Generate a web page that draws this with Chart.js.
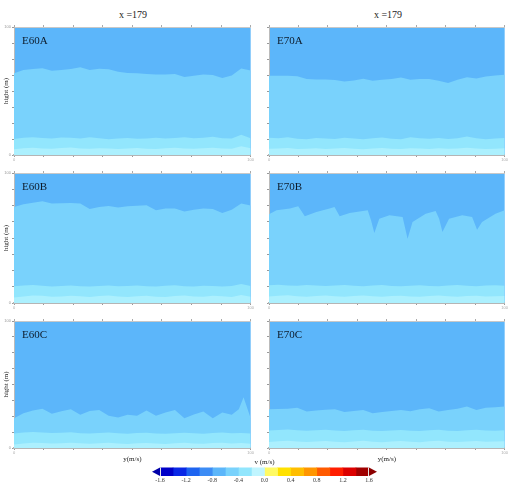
<!DOCTYPE html>
<html>
<head>
<meta charset="utf-8">
<script src="https://cdn.jsdelivr.net/npm/chart.js@4.4.1/dist/chart.umd.min.js"></script>
<style>
  body { margin: 0; background: #fff; width: 508px; height: 483px; overflow: hidden; position: relative; font-family: "Liberation Serif", serif; }
  canvas { position: absolute; }
  .col-title { position: absolute; top: 9px; width: 120px; text-align: center; font-size: 10px; color: #222; }
</style>
</head>
<body>
<div class="col-title" style="left:73px">x =179</div>
<div class="col-title" style="left:328px">x =179</div>
<script>
// x positions (y(m/s) axis, 0..100)
const xs = [0, 4, 8, 12, 16, 20, 24, 28, 32, 36, 40, 44, 48, 52, 56, 60, 64, 68, 72, 76, 80, 84, 88, 92, 96, 100];
const xsE60Ctop = [0, 4, 8, 12, 16, 20, 24, 28, 32, 36, 40, 44, 48, 52, 56, 60, 64, 68, 72, 76, 80, 84, 88, 92, 95, 97, 100];
const xsE70Btop = [0, 3.2, 8.9, 12.4, 15.2, 20.1, 25.7, 27.8, 30, 34.2, 39.8, 41.9, 43.3, 44.7, 46.8, 51.1, 56.7, 58.8, 60.9, 66.5, 70.7, 72.2, 73.6, 76.4, 82, 86.2, 88.3, 90.4, 96.1, 100];

// contour boundaries (height, 0..100)
const e60aTop = [63.8, 66.4, 67.2, 67.7, 65.9, 66.4, 67.2, 68.5, 66.4, 67.4, 66.9, 65.1, 64.1, 63.8, 63.3, 62.8, 62.8, 63.3, 61.0, 62.0, 62.8, 62.5, 60.2, 62.2, 67.5, 66.0];
const e60aMid = [12.5, 13.5, 13.9, 13.2, 12.8, 13.6, 13.4, 12.9, 13.8, 13.1, 12.4, 12.8, 13.3, 12.6, 12.9, 13.5, 12.8, 13.3, 13.9, 13.0, 13.4, 14.2, 13.1, 12.9, 15.8, 13.0];
const e60aLow = [4.5, 5.2, 5.6, 5.0, 4.8, 5.4, 5.8, 5.1, 4.9, 5.3, 5.0, 4.6, 5.1, 5.5, 4.9, 4.7, 5.2, 5.6, 5.0, 4.8, 5.3, 5.6, 5.0, 4.9, 6.8, 5.2];

const e70aTop = [61.9, 61.9, 61.9, 61.6, 59.3, 59.0, 59.0, 58.5, 57.5, 58.2, 59.5, 58.0, 58.8, 59.3, 60.6, 58.8, 59.3, 59.3, 58.0, 56.2, 58.8, 60.8, 59.8, 61.3, 62.1, 62.6];
const e70aMid = [13.4, 13.0, 13.8, 12.6, 12.4, 13.2, 12.8, 12.5, 13.5, 12.9, 12.3, 13.0, 13.6, 12.7, 12.4, 13.8, 13.1, 12.6, 13.2, 12.5, 13.0, 14.5, 13.1, 12.4, 12.8, 13.2];
const e70aLow = [4.8, 5.0, 5.5, 4.7, 4.9, 5.3, 4.6, 5.0, 5.4, 4.8, 4.5, 5.1, 5.5, 4.9, 4.6, 5.2, 5.0, 4.7, 5.3, 4.8, 5.0, 5.6, 5.1, 4.7, 4.9, 5.2];

const e60bTop = [73.9, 75.9, 77.2, 78.2, 76.5, 76.7, 77.0, 76.5, 72.3, 73.8, 74.6, 73.4, 74.4, 74.9, 75.1, 71.3, 72.6, 72.6, 70.3, 71.8, 72.6, 72.3, 69.2, 71.8, 76.5, 75.0];
const e60bMid = [12.8, 13.4, 13.9, 13.2, 12.7, 13.1, 13.5, 12.9, 12.6, 13.0, 13.4, 12.8, 13.1, 13.5, 12.9, 12.6, 13.2, 13.6, 12.8, 12.7, 13.3, 13.0, 12.6, 13.1, 14.6, 13.0];
const e60bLow = [4.2, 5.0, 5.8, 5.5, 4.8, 5.0, 5.6, 5.2, 4.7, 5.3, 5.7, 5.0, 4.6, 5.2, 5.6, 4.9, 4.7, 5.4, 5.8, 5.0, 4.8, 5.5, 5.1, 4.7, 6.2, 4.9];

const e70bTop = [68.2, 71.3, 72.6, 74.4, 66.7, 70.0, 72.6, 73.9, 66.7, 69.3, 70.8, 71.3, 63.6, 53.9, 64.9, 67.5, 66.2, 49.5, 62.3, 68.7, 70.8, 64.9, 54.6, 64.9, 67.5, 66.2, 56.4, 62.3, 68.7, 71.3];
const e70bMid = [13.6, 14.0, 13.5, 13.2, 13.8, 13.4, 13.0, 13.5, 13.9, 13.2, 12.9, 13.4, 13.8, 13.1, 12.8, 13.3, 13.7, 13.0, 12.9, 13.5, 13.8, 13.2, 12.8, 13.4, 13.6, 13.3];
const e70bLow = [5.0, 5.6, 5.9, 5.2, 4.8, 5.3, 5.7, 5.1, 4.9, 5.4, 5.8, 5.2, 4.8, 5.3, 5.5, 5.0, 4.8, 5.4, 5.7, 5.1, 4.9, 5.3, 5.6, 5.0, 5.2, 5.4];

const e60cTop = [23.5, 27.4, 29.5, 31.0, 26.9, 29.0, 30.5, 26.1, 29.2, 30.0, 25.3, 24.0, 26.1, 25.3, 29.5, 25.3, 27.9, 30.0, 23.5, 26.4, 28.7, 23.5, 27.9, 26.1, 30.5, 40.0, 23.5];
const e60cMid = [11.5, 12.2, 12.6, 12.3, 11.8, 12.0, 12.4, 11.7, 11.4, 11.9, 12.3, 11.6, 11.3, 11.8, 12.1, 11.5, 11.2, 11.7, 12.0, 11.6, 11.3, 11.9, 12.2, 11.6, 11.9, 11.4];
const e60cLow = [2.8, 3.6, 4.2, 4.0, 3.5, 3.8, 4.2, 3.7, 3.3, 3.8, 4.1, 3.6, 3.2, 3.7, 4.0, 3.5, 3.2, 3.8, 4.1, 3.6, 3.3, 3.9, 4.2, 3.6, 3.9, 3.3];

const e70cTop = [30.5, 30.8, 31.0, 31.6, 28.7, 29.5, 30.2, 30.5, 28.4, 29.2, 30.0, 27.4, 28.4, 29.2, 30.0, 29.0, 30.5, 31.3, 28.7, 30.0, 31.0, 32.6, 30.0, 31.6, 32.1, 32.6];
const e70cMid = [13.8, 14.2, 14.6, 13.9, 13.5, 14.0, 14.4, 13.7, 13.4, 13.9, 14.3, 13.6, 13.3, 13.8, 14.2, 13.5, 13.3, 13.9, 14.3, 13.6, 13.4, 14.0, 14.4, 13.7, 13.5, 13.9];
const e70cLow = [4.8, 5.4, 5.8, 5.2, 4.7, 5.1, 5.6, 5.0, 4.6, 5.2, 5.7, 5.0, 4.6, 5.1, 5.5, 4.9, 4.6, 5.3, 5.7, 5.0, 4.7, 5.2, 5.6, 4.9, 5.1, 5.3];

// colour bar
const cbEdges = [-1.6, -1.4, -1.2, -1.0, -0.8, -0.6, -0.4, -0.2, 0.0, 0.2, 0.4, 0.6, 0.8, 1.0, 1.2, 1.4, 1.6];
const cbColors = ['#0000c8', '#0a28e6', '#1e64f0', '#3c8cf5', '#5cb6fa', '#79d2fc', '#92e6fd', '#c0f5ff',
                  '#fffa64', '#ffe100', '#ffbe00', '#ff9600', '#ff5a00', '#ff1e00', '#dc0000', '#a00000'];

// contour band colours, lowest first
const bandColors = ['#acf0fe', '#92e6fd', '#79d2fc'];
const topColor = '#5cb6fa';

const colLeft = [14, 269], colRight = [252, 506];
const rowTop = [27, 173, 321], rowBottom = [155, 303, 448];
const serif = '"Liberation Serif", serif';

const panels = [
    { name: 'E60A', row: 0, col: 0, bounds: [[xs, e60aLow], [xs, e60aMid], [xs, e60aTop]] },
    { name: 'E70A', row: 0, col: 1, bounds: [[xs, e70aLow], [xs, e70aMid], [xs, e70aTop]] },
    { name: 'E60B', row: 1, col: 0, bounds: [[xs, e60bLow], [xs, e60bMid], [xs, e60bTop]] },
    { name: 'E70B', row: 1, col: 1, bounds: [[xs, e70bLow], [xs, e70bMid], [xsE70Btop, e70bTop]] },
    { name: 'E60C', row: 2, col: 0, bounds: [[xs, e60cLow], [xs, e60cMid], [xsE60Ctop, e60cTop]] },
    { name: 'E70C', row: 2, col: 1, bounds: [[xs, e70cLow], [xs, e70cMid], [xs, e70cTop]] }
];

// fundo da zona superior + etiqueta do painel
const panelDecor = {
    id: 'panelDecor',
    beforeDraw(chart) {
        const { ctx, chartArea: a } = chart;
        ctx.save();
        ctx.fillStyle = topColor;
        ctx.fillRect(a.left, a.top, a.right - a.left, a.bottom - a.top);
        ctx.restore();
    },
    afterDatasetsDraw(chart, args, opts) {
        const { ctx, chartArea: a } = chart;
        ctx.save();
        ctx.font = '11px ' + serif;
        ctx.fillStyle = '#0d1b2a';
        ctx.textBaseline = 'middle';
        ctx.fillText(opts.label, a.left + 8, a.top + 14);
        ctx.restore();
    }
};

function endLabel(v) {
    return (v === 0 || v === 100) ? v : '';
}

function makePanel(p) {
    const left = colLeft[p.col], right = colRight[p.col];
    const top = rowTop[p.row], bottom = rowBottom[p.row];
    const xAxisH = p.row === 2 ? 16 : 12;

    const cv = document.createElement('canvas');
    cv.width = right - left + 16;
    cv.height = bottom - top + 6 + xAxisH;
    cv.style.left = (left - 14) + 'px';
    cv.style.top = (top - 6) + 'px';
    document.body.appendChild(cv);

    new Chart(cv, {
        type: 'line',
        data: {
            datasets: p.bounds.map((b, i) => ({
                data: b[0].map((x, j) => ({ x: x, y: b[1][j] })),
                fill: 'origin',
                backgroundColor: bandColors[i],
                borderColor: bandColors[i],
                borderWidth: 0,
                pointRadius: 0,
                tension: 0
            }))
        },
        options: {
            responsive: false,
            animation: false,
            layout: { padding: { left: 0, right: 2, top: 0, bottom: 0 } },
            plugins: {
                legend: { display: false },
                tooltip: { enabled: false },
                panelDecor: { label: p.name }
            },
            scales: {
                x: {
                    type: 'linear', min: 0, max: 100, position: 'bottom',
                    ticks: { stepSize: 12.5, autoSkip: false, maxRotation: 0, padding: 0, font: { size: 4 }, color: '#aaa', callback: endLabel },
                    grid: { drawOnChartArea: false, tickLength: 2, color: '#999' },
                    border: { color: '#b5b5b5', width: 2 },
                    title: { display: p.row === 2, text: 'y(m/s)', color: '#222', font: { family: serif, size: 7 }, padding: { top: 0, bottom: 1 } },
                    afterFit: s => { s.height = xAxisH; }
                },
                xTop: {
                    type: 'linear', min: 0, max: 100, position: 'top',
                    ticks: { display: false, stepSize: 12.5 },
                    grid: { drawOnChartArea: false, tickLength: 2, color: '#aaa' },
                    border: { color: '#c8c8c8' },
                    afterFit: s => { s.height = 6; }
                },
                y: {
                    min: 0, max: 100,
                    ticks: { display: p.col === 0, stepSize: 12.5, autoSkip: false, padding: 1, font: { size: 4 }, color: '#999', callback: endLabel },
                    grid: { drawOnChartArea: false, tickLength: 2, color: '#999' },
                    border: { color: '#bbb' },
                    title: { display: p.col === 0, text: 'hight (m)', color: '#222', font: { family: serif, size: 7 }, padding: { top: 2, bottom: 0 } },
                    afterFit: s => { s.width = 14; }
                }
            }
        },
        plugins: [panelDecor]
    });
}

panels.forEach(makePanel);

// triângulos nas pontas da barra de cores
const cbArrows = {
    id: 'cbArrows',
    afterDatasetsDraw(chart) {
        const { ctx, chartArea: a, scales } = chart;
        const l = scales.x.getPixelForValue(cbEdges[0]);
        const r = scales.x.getPixelForValue(cbEdges[cbEdges.length - 1]);
        const mid = (a.top + a.bottom) / 2;
        ctx.save();
        ctx.fillStyle = '#0000a8';
        ctx.beginPath();
        ctx.moveTo(l, a.top); ctx.lineTo(l, a.bottom); ctx.lineTo(l - 8, mid);
        ctx.fill();
        ctx.fillStyle = '#8c0000';
        ctx.beginPath();
        ctx.moveTo(r, a.top); ctx.lineTo(r, a.bottom); ctx.lineTo(r + 8, mid);
        ctx.fill();
        ctx.strokeStyle = '#e4e4e4';
        ctx.lineWidth = 1;
        ctx.beginPath();
        ctx.moveTo(l + 0.5, a.top); ctx.lineTo(l + 0.5, a.bottom);
        ctx.moveTo(r - 0.5, a.top); ctx.lineTo(r - 0.5, a.bottom);
        ctx.stroke();
        ctx.restore();
    }
};

const cb = document.createElement('canvas');
cb.width = 245;
cb.height = 28;
cb.style.left = '140px';
cb.style.top = '455px';
document.body.appendChild(cb);

new Chart(cb, {
    type: 'bar',
    data: {
        labels: ['v'],
        datasets: cbColors.map((c, i) => ({
            data: [[cbEdges[i], cbEdges[i + 1]]],
            backgroundColor: c,
            borderWidth: 0,
            barPercentage: 1,
            categoryPercentage: 1
        }))
    },
    options: {
        indexAxis: 'y',
        grouped: false,
        responsive: false,
        animation: false,
        layout: { padding: { left: 20, right: 16, top: 0, bottom: 0 } },
        plugins: {
            legend: { display: false },
            tooltip: { enabled: false },
            title: { display: true, text: 'v (m/s)', color: '#222', font: { family: serif, size: 7, weight: 'normal' }, padding: { top: 3, bottom: 1 } }
        },
        scales: {
            y: { display: false },
            x: {
                type: 'linear', min: -1.6, max: 1.6,
                ticks: { stepSize: 0.4, padding: 1, color: '#333', font: { family: serif, size: 6 },
                         callback: v => (Math.abs(v) < 1e-9 ? 0 : v).toFixed(1) },
                grid: { display: false, drawTicks: false, tickLength: 0 },
                border: { display: false },
                afterFit: s => { s.height = 7; }
            }
        }
    },
    plugins: [cbArrows]
});
</script>
</body>
</html>
